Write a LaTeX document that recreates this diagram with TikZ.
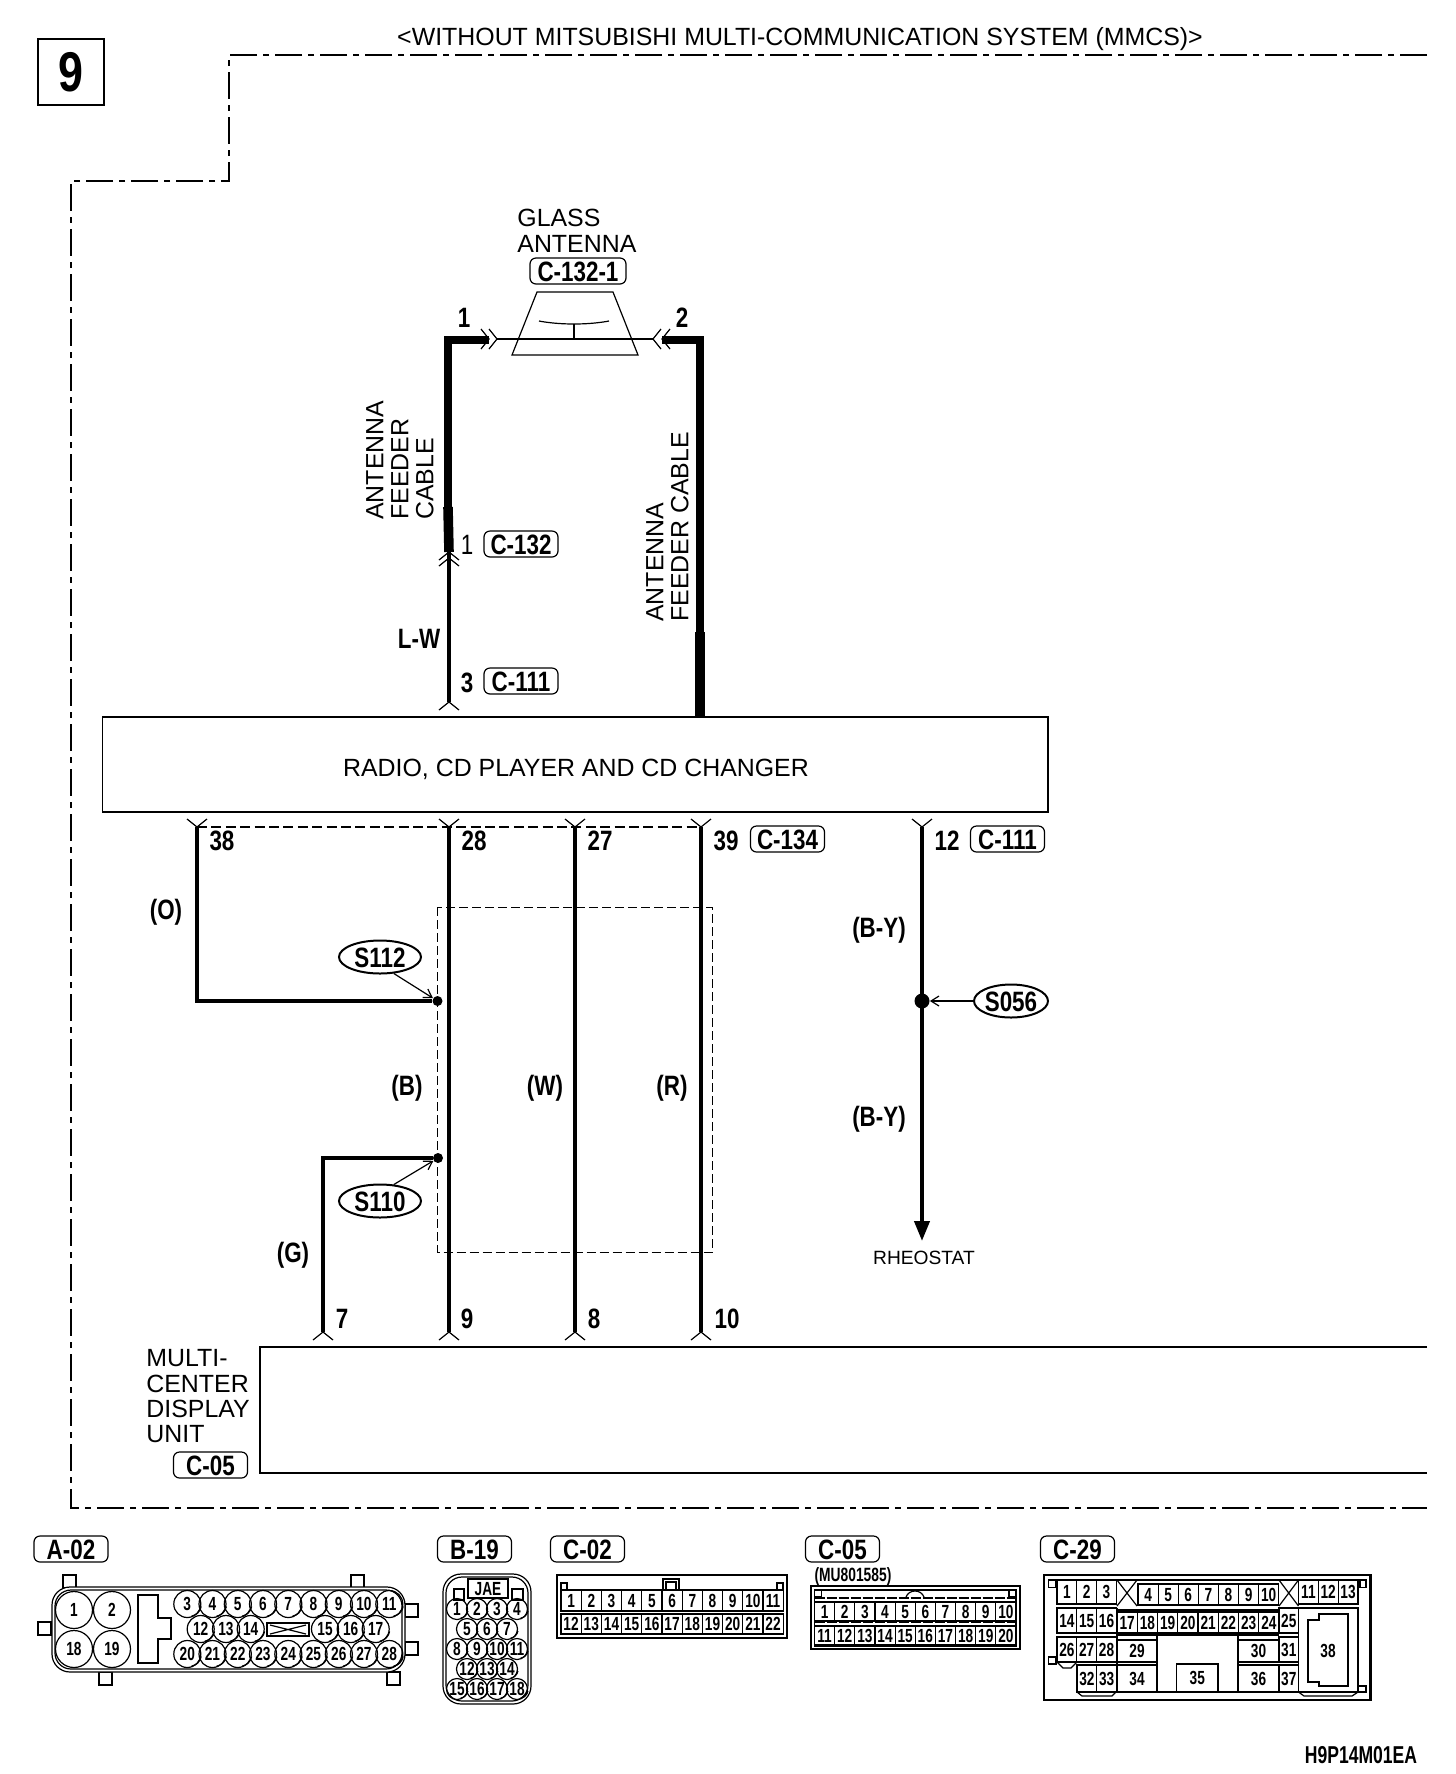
\documentclass[tikz,border=0pt]{standalone}
\usepackage{fontspec}
\setmainfont{Liberation Sans}
\newfontfamily\pinfont[FakeStretch=0.8]{Liberation Sans}
\newfontfamily\cellfont[FakeStretch=0.72]{Liberation Sans}
\usetikzlibrary{arrows.meta,shapes.geometric}

\tikzset{
  plain/.style={font=\fontsize{12.45}{12.5}\selectfont,inner sep=0pt},
  pinnum/.style={font=\pinfont\bfseries\fontsize{14}{14}\selectfont,inner sep=0pt,text height=10pt,text depth=0pt},
  badge/.style={pinnum,draw,line width=.6pt,rounded corners=3pt,minimum width=37pt,minimum height=13pt},
  splice/.style={pinnum,draw,ellipse,line width=1pt,minimum width=41pt,minimum height=16.5pt},
  splicedot/.style={fill,circle,inner sep=0pt,minimum size=5pt},
  unitbox/.style={draw,line width=.8pt},
  wire/.style={line width=2pt},
  feeder/.style={line width=4pt},
  feederlow/.style={line width=4.8pt},
  hair/.style={line width=.6pt},
  shield/.style={line width=1pt,dash pattern=on 5pt off 2.2pt},
  harness/.style={line width=.5pt,dash pattern=on 4.5pt off 2pt},
  outline/.style={line width=.6pt,dash pattern=on 13.5pt off 3pt on 3pt off 3pt},
  callout/.style={line width=.6pt,-{Straight Barb[length=4pt,width=5pt]}},
  hole/.style={draw,circle,line width=.6pt,inner sep=0pt,font=\cellfont\bfseries\fontsize{9.5}{9.5}\selectfont,text height=6.8pt,text depth=0pt},
  pincell/.style={draw,line width=.6pt,inner sep=0pt,font=\cellfont\bfseries\fontsize{9.5}{9.5}\selectfont,text height=6.8pt,text depth=0pt},
  barb/.pic={\draw[hair] (-8,-10) -- (0,0) -- (-8,10);},
}

% row of numbered cells: numbers, prefix, first x, step, top, bottom
\newcommand{\cellrow}[6]{
  \foreach \n [count=\i from 0] in {#1}
    \node[pincell,minimum width=#4*.5pt,minimum height=(#6-#5)*.5pt] (#2\n) at (#3+#4*\i+#4/2,{(#5+#6)/2}) {\n};
}
% row of numbered round holes: number/x pairs, prefix, y, diameter
\newcommand{\holerow}[4]{
  \foreach \n/\x in {#1} {
    \node[hole,minimum size=#4*.5pt] (#2\n) at (\x,#3) {\n};
    \draw[hair] (#2\n.-10) arc[start angle=10,end angle=80,radius=#4/2-1.5];
  }
}

\begin{document}
\begin{tikzpicture}[x=.5pt,y=-.5pt]
  \useasboundingbox (0,0) rectangle (1456,1774);

  % sheet number and frame
  \node[draw,line width=1.3pt,minimum size=33pt,inner sep=0pt,font=\pinfont\bfseries\fontsize{28}{28}\selectfont] (sheet) at (71,72) {9};
  \draw[outline] (1427,55) -- (229,55) -- (229,181) -- (71,181) -- (71,1508) -- (1427,1508);
  \node[plain] (title) at (800,39) {<WITHOUT MITSUBISHI MULTI-COMMUNICATION SYSTEM (MMCS)>};

  % glass antenna
  \node[plain,anchor=west] (glass) at (517,218) {GLASS};
  \node[plain,anchor=west] (antenna) at (517,244) {ANTENNA};
  \node[badge,minimum width=48pt] (c1321) at (578,271) {C-132-1};
  \coordinate (ant1) at (497,339);
  \coordinate (ant2) at (653,339);
  \draw[hair] (537,292) -- (613,292) -- (638,355) -- (512,355) -- cycle;
  \draw[hair] (539,321) .. controls (560,325) and (588,325) .. (609,321);
  \draw[hair] (574,324) -- (574,339);
  \draw[hair] (ant1) -- (ant2);
  \node[pinnum] (a1) at (464,317) {1};
  \node[pinnum] (a2) at (682,317) {2};

  % antenna feeders
  \coordinate (fl) at (448,507);
  \coordinate (fr) at (700,632);
  \coordinate (c132) at (449,552);
  \draw[feeder] (fl) |- (489,340);
  \draw[feederlow] (fl) -- (c132);
  \draw[feeder] (fr) |- (662,340);
  \pic[rotate=0] at (ant1) {barb};
  \pic[rotate=0] at (489,339) {barb};
  \pic[rotate=180] at (ant2) {barb};
  \pic[rotate=180] at (662,339) {barb};
  \pic[rotate=90] at (c132) {barb};
  \pic[rotate=90] at (449,558) {barb};
  \node[plain,rotate=90,anchor=south west,align=left] (feedl) at (434,520) {ANTENNA\\FEEDER\\CABLE};
  \node[plain,rotate=90,anchor=south west,align=left] (feedr) at (689,622) {ANTENNA\\FEEDER CABLE};

  \node[pinnum,font=\pinfont\fontsize{14}{14}\selectfont] (p1) at (467,544) {1};
  \node[badge] (c132b) at (521,544) {C-132};
  \node[pinnum] (lw) at (419,638) {L-W};
  \node[pinnum] (p3) at (467,682) {3};
  \node[badge] (c111a) at (521,681) {C-111};

  % radio
  \node[unitbox,minimum width=472.75pt,minimum height=47.5pt,inner sep=0pt] (radio) at (575.25,764.5) {};
  \node[plain] (radiol) at (576,769) {RADIO, CD PLAYER AND CD CHANGER};
  \coordinate (r3) at (449,702);
  \draw[wire] (c132) -- (r3);
  \pic[rotate=90] at (r3) {barb};
  \draw[feederlow] (fr) -- (700,717);

  \foreach \n/\x in {38/197,28/449,27/575,39/701,12/922} {
    \coordinate (r\n) at (\x,827);
    \pic[rotate=-90] at (r\n) {barb};
  }
  \foreach \n/\x in {7/323,9/449,8/575,10/701} {
    \coordinate (m\n) at (\x,1332);
    \pic[rotate=90] at (m\n) {barb};
  }
  \foreach \n/\x in {38/222,28/474,27/600,39/726,12/947}
    \node[pinnum] (rl\n) at (\x,840) {\n};
  \foreach \n/\x in {7/342,9/467,8/594,10/727}
    \node[pinnum] (ml\n) at (\x,1318) {\n};
  \node[badge] (c134) at (787.5,839) {C-134};
  \node[badge] (c111b) at (1007.5,839) {C-111};

  \draw[shield] (r38) -- (r39);
  \draw[harness] (437.5,907) rectangle (712,1252);

  % wires
  \node[splicedot] (j112) at (437.5,1001) {};
  \node[splicedot] (j110) at (438,1158) {};
  \node[splicedot,minimum size=7.5pt] (j056) at (922,1001) {};
  \coordinate (rheo) at (922,1241);
  \draw[wire] (r38) |- (j112);
  \draw[wire] (j110) -| (m7);
  \draw[wire] (r28) -- (m9);
  \draw[wire] (r27) -- (m8);
  \draw[wire] (r39) -- (m10);
  \draw[wire,-{Triangle[length=10pt,width=7.5pt]}] (r12) -- (rheo);

  \node[splice] (s112) at (380,957) {S112};
  \node[splice] (s110) at (380,1201) {S110};
  \node[splice,minimum width=35.5pt] (s056) at (1011,1001) {S056};
  \draw[callout] (s112.-50) -- (j112);
  \draw[callout] (s110.50) -- (j110);
  \draw[callout] (s056) -- (j056);

  \node[pinnum] (wo) at (166,909) {(O)};
  \node[pinnum] (wb) at (407,1085) {(B)};
  \node[pinnum] (ww) at (545,1085) {(W)};
  \node[pinnum] (wr) at (672,1085) {(R)};
  \node[pinnum] (wg) at (293,1252) {(G)};
  \node[pinnum] (wby1) at (879,927) {(B-Y)};
  \node[pinnum] (wby2) at (879,1116) {(B-Y)};
  \node[inner sep=0pt,font=\fontsize{9.6}{9.6}\selectfont] (rheol) at (924,1258) {RHEOSTAT};

  % display unit
  \draw[unitbox] (1427,1347) -- (260,1347) -- (260,1473) -- (1427,1473);
  \node[plain,anchor=west] (mc1) at (146,1358) {MULTI-};
  \node[plain,anchor=west] (mc2) at (146,1384) {CENTER};
  \node[plain,anchor=west] (mc3) at (146,1409) {DISPLAY};
  \node[plain,anchor=west] (mc4) at (146,1434) {UNIT};
  \node[badge] (c05) at (210.5,1465) {C-05};

  % connector A-02
  \node[badge] (a02l) at (71,1549) {A-02};
  \foreach \x/\y in {63/1575,351/1575,99/1672,387/1672,38/1622,405/1604,405/1642}
    \draw[hair] (\x,\y) rectangle ++(13,13);
  \draw[hair,fill=white,rounded corners=9pt] (52,1587) rectangle (405,1672);
  \draw[hair,rounded corners=8pt] (55,1590) rectangle (402,1669);
  \foreach \n/\x/\y in {1/74/1610,2/112/1610,18/74/1649,19/112/1649}
    \node[hole,minimum size=18.5pt] (aa\n) at (\x,\y) {\n};
  \draw[hair] (138,1595) -- (158,1595) -- (158,1618) -- (171,1618) -- (171,1639) -- (158,1639) -- (158,1663) -- (138,1663) -- cycle;
  \holerow{3/187.3,4/212.5,5/237.8,6/263,7/288.3,8/313.5,9/338.8,10/364,11/389.3}{aa}{1604}{27}
  \holerow{12/200.7,13/226,14/250.7,15/325,16/350.7,17/375.7}{aa}{1629}{27}
  \holerow{20/187.3,21/212.5,22/237.8,23/263,24/288.3,25/313.5,26/338.8,27/364,28/389.3}{aa}{1654}{27}
  \draw[line width=.9pt] (267,1623) rectangle (309,1636);
  \draw[hair] (270,1625) -- (306,1634) (270,1634) -- (306,1625);

  % connector B-19
  \node[badge] (b19l) at (474.5,1549) {B-19};
  \draw[hair,rounded corners=9pt] (443,1574) rectangle (531,1704);
  \draw[hair,rounded corners=8pt] (446,1577) rectangle (528,1701);
  \node[pincell,minimum width=20pt,minimum height=9.5pt] (jae) at (488,1588.5) {JAE};
  \draw[hair] (454,1589) rectangle (464,1600) (512,1589) rectangle (523,1600);
  \holerow{1/457,2/477,3/497,4/517}{bb}{1609}{21}
  \holerow{5/467,6/487,7/507}{bb}{1629}{21}
  \holerow{8/457,9/477,10/497,11/517}{bb}{1649}{21}
  \holerow{12/467,13/487,14/507}{bb}{1669}{21}
  \holerow{15/457,16/477,17/497,18/517}{bb}{1689}{21}

  % connector C-02
  \node[badge] (c02l) at (587.5,1549) {C-02};
  \draw[line width=.7pt] (557,1575) rectangle (787,1638);
  \draw[line width=1.2pt] (557,1575) -- (787,1575);
  \draw[hair] (561,1590) -- (783,1590);
  \draw[hair] (561,1583) rectangle (567,1590) (777,1583) rectangle (783,1590);
  \draw[hair] (663,1579) rectangle (679,1590) (666,1582) rectangle (676,1590);
  \cellrow{1,2,3,4,5,6,7,8,9,10,11}{cb}{561}{20.2}{1590}{1611}
  \cellrow{12,13,14,15,16,17,18,19,20,21,22}{cb}{561}{20.2}{1614}{1634}

  % connector C-05
  \node[badge] (c05l) at (842.5,1549) {C-05};
  \node[inner sep=0pt,font=\cellfont\bfseries\fontsize{9.6}{9.6}\selectfont] (mu) at (853,1577) {(MU801585)};
  \draw[line width=1.2pt] (811,1586) rectangle (1020,1649);
  \draw[hair] (814.5,1590) rectangle (1016,1646);
  \draw[hair] (814.5,1590) rectangle ++(7,7) (1009,1590) rectangle ++(7,7);
  \draw[hair] (906,1597) .. controls (909,1589) and (921,1589) .. (924,1597);
  \draw[line width=1.4pt,dash pattern=on 5pt off 1pt] (814.5,1598) -- (1016,1598);
  \draw[line width=1.4pt,dash pattern=on 5pt off 1pt] (814.5,1622) -- (1016,1622);
  \cellrow{1,2,3,4,5,6,7,8,9,10}{cc}{814.5}{20.15}{1602}{1621}
  \cellrow{11,12,13,14,15,16,17,18,19,20}{cc}{814.5}{20.15}{1626}{1645}

  % connector C-29
  \node[badge] (c29l) at (1077.5,1549) {C-29};
  \draw[line width=1.2pt] (1044,1575) rectangle (1370.5,1700);
  \draw[hair] (1057,1580) -- (1358,1580);
  \draw[hair] (1048.5,1580) rectangle ++(7.5,7.5) (1360,1580) rectangle ++(6,7.5);
  \draw[hair] (1048.5,1657) rectangle ++(7.5,7) (1358,1686) rectangle ++(8,6);
  \cellrow{1,2,3}{cd}{1057}{19.8}{1580}{1604}
  \cellrow{4,5,6,7,8,9,10}{cd}{1138}{20.1}{1584}{1605}
  \cellrow{11,12,13}{cd}{1298.5}{19.8}{1580}{1604}
  \cellrow{14,15,16}{cd}{1057}{19.8}{1608}{1633}
  \cellrow{17,18,19,20,21,22,23,24}{cd}{1117}{20.25}{1612}{1633}
  \cellrow{25}{cd}{1279}{19.5}{1608}{1633}
  \cellrow{26,27,28}{cd}{1057}{19.8}{1637}{1662}
  \cellrow{29}{cd}{1117}{40}{1640}{1662}
  \cellrow{30}{cd}{1238}{41}{1640}{1662}
  \cellrow{31}{cd}{1279}{19.5}{1637}{1662}
  \cellrow{32,33}{cd}{1077}{19.8}{1665}{1692}
  \cellrow{34}{cd}{1117}{40}{1665}{1692}
  \cellrow{35}{cd}{1176.5}{41.5}{1664}{1692}
  \cellrow{36}{cd}{1238}{41}{1665}{1692}
  \cellrow{37}{cd}{1279}{19.5}{1665}{1692}
  \draw[hair] (1117,1580) -- (1137,1606) (1137,1580) -- (1117,1606);
  \draw[hair] (1279,1580) -- (1298.5,1606) (1298.5,1580) -- (1279,1606);
  \draw[line width=1pt] (1116.5,1608) -- (1116.5,1693);
  \draw[line width=1pt] (1117,1610) -- (1279,1610);
  \draw[line width=1pt] (1117,1635) -- (1279,1635);
  \draw[line width=1pt] (1157,1635) -- (1157,1692) -- (1238,1692) -- (1238,1635);
  \draw[hair] (1057,1662) -- (1063,1668) -- (1071,1668) -- (1077,1662);
  \draw[hair] (1077,1692) -- (1082,1696) -- (1112,1696) -- (1116,1692);
  \draw[hair] (1298.5,1608) rectangle (1358,1692);
  \draw[hair] (1298.5,1692) -- (1304,1696) -- (1352,1696) -- (1358,1692);
  \draw[hair] (1308,1620) -- (1319,1620) -- (1319,1614) -- (1348,1614) -- (1348,1686) -- (1319,1686) -- (1319,1682) -- (1308,1682) -- cycle;
  \node[pincell,draw=none] (cd38) at (1328,1651) {38};

  \node[inner sep=0pt,font=\cellfont\bfseries\fontsize{12.2}{12.2}\selectfont] (code) at (1361,1755) {H9P14M01EA};
\end{tikzpicture}
\end{document}
